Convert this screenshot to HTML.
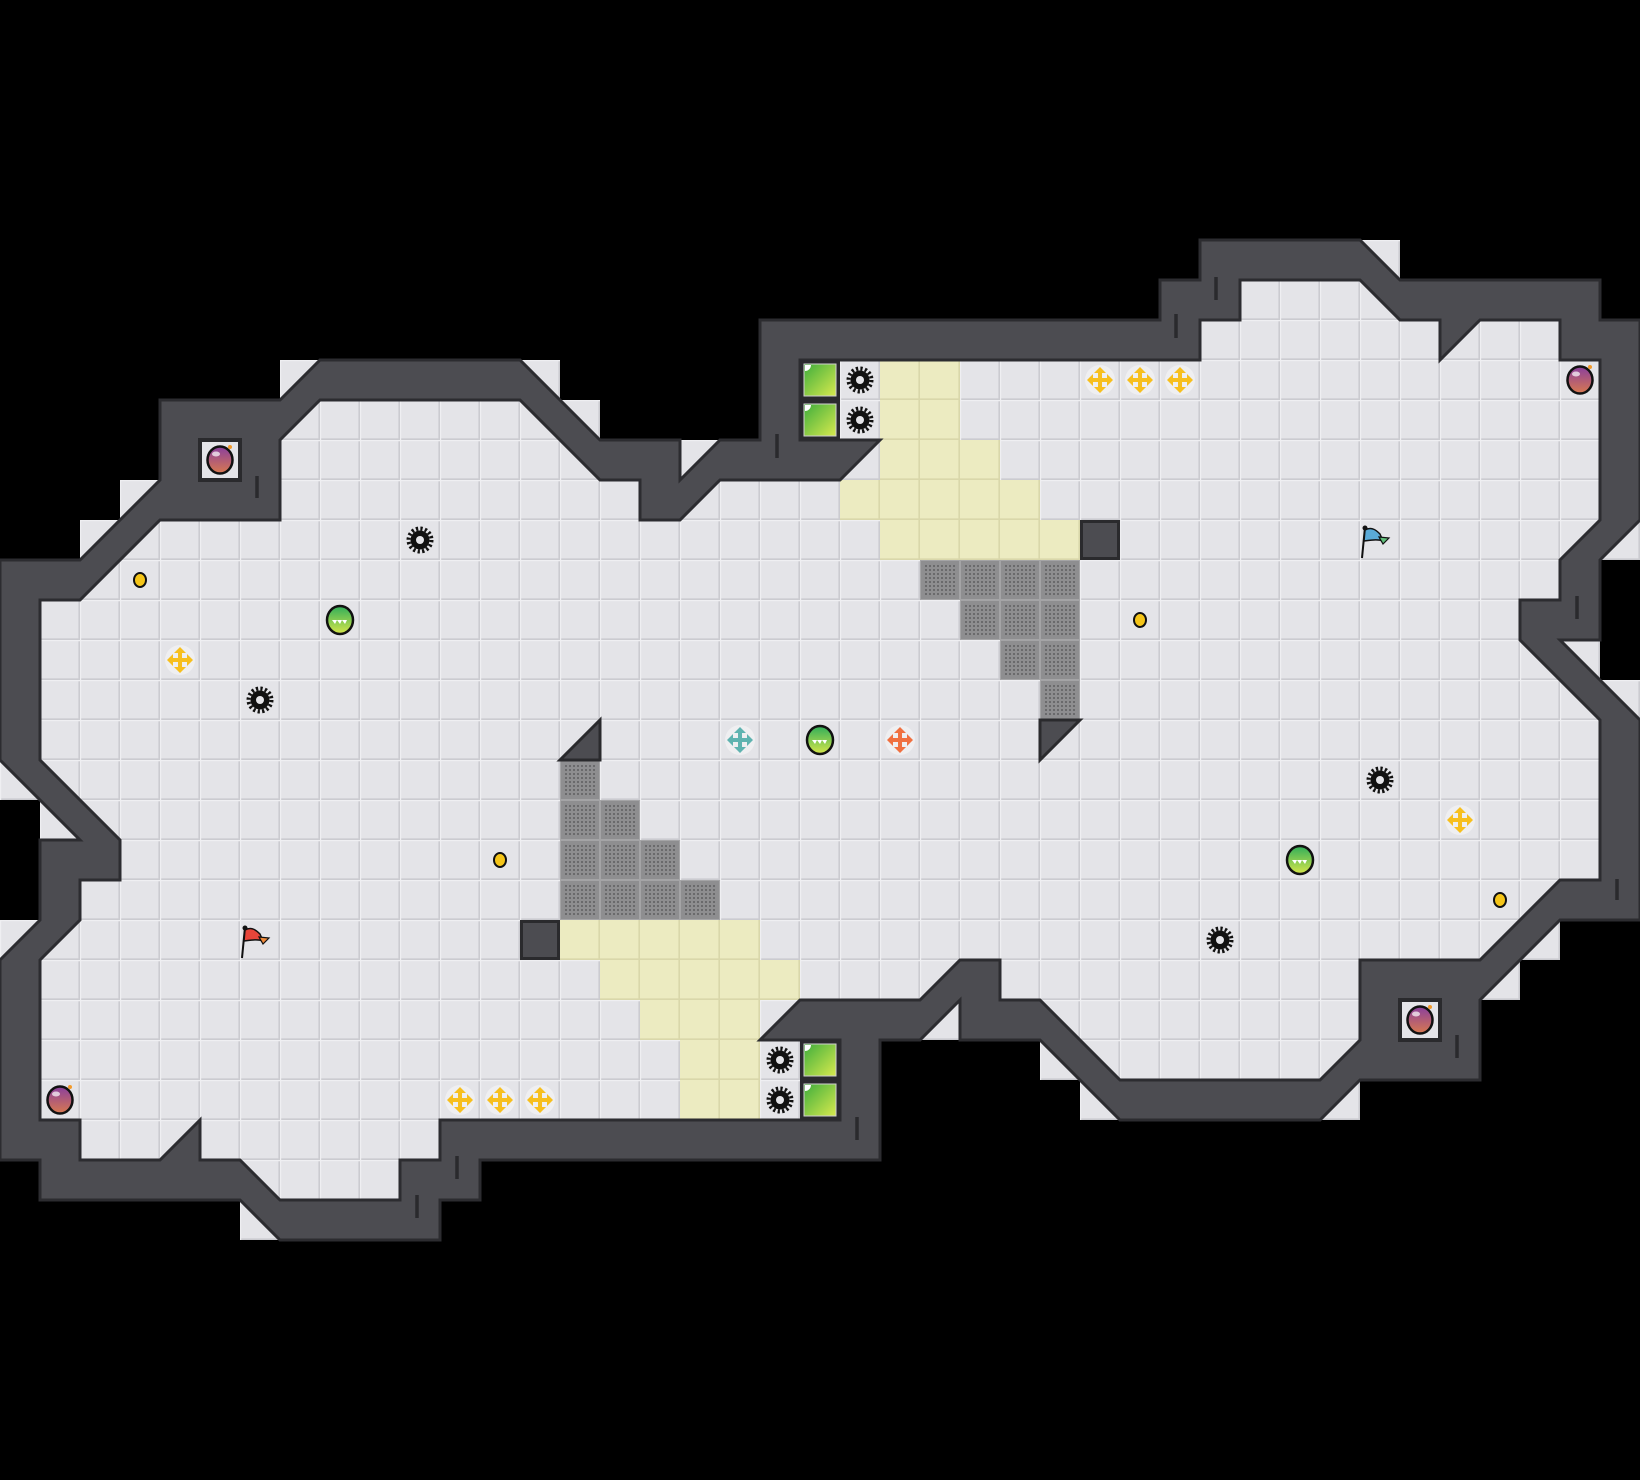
<!DOCTYPE html>
<html><head><meta charset="utf-8"><style>html,body{margin:0;padding:0;background:#000;}svg{display:block}</style></head>
<body>
<svg width="1640" height="1480" viewBox="0 0 1640 1480" xmlns="http://www.w3.org/2000/svg">
<defs>
<pattern id="fl" width="40" height="40" patternUnits="userSpaceOnUse">
<rect width="40" height="40" fill="#e4e4e8"/>
<path d="M0 39.2H40M39.2 0V40" stroke="#cbcbd0" stroke-width="1.6"/>
<path d="M0 0.6H40M0.6 0V40" stroke="#efeff2" stroke-width="1.2"/>
</pattern>
<pattern id="yl" width="40" height="40" patternUnits="userSpaceOnUse">
<rect width="40" height="40" fill="#ecebc1"/>
<path d="M0 39.2H40M39.2 0V40" stroke="#d9d7aa" stroke-width="1.6"/>
</pattern>
<pattern id="ms" width="40" height="40" patternUnits="userSpaceOnUse">
<rect width="40" height="40" fill="#8e8e90"/>
<rect x="0.5" y="0.5" width="39" height="39" fill="none" stroke="#a4a4a6" stroke-width="1"/>
<g fill="#6c6c6e">
<rect x="5" y="5" width="30" height="30" fill="url(#dots)"/>
</g>
</pattern>
<pattern id="dots" width="4" height="4" patternUnits="userSpaceOnUse">
<rect x="1" y="1" width="2" height="2" fill="#6a6a6c"/>
</pattern>
<g id="gear"><circle r="9.5" fill="#111"/><circle r="11.5" fill="none" stroke="#111" stroke-width="4" stroke-dasharray="2.26 2.26"/><circle r="4" fill="#e4e4e8"/></g>
<g id="cross"><circle r="15" fill="#fff" opacity=".4"/><path d="M-13,0 L-7,-6 L-7,-2 L-2,-2 L-2,-7 L-6,-7 L0,-13 L6,-7 L2,-7 L2,-2 L7,-2 L7,-6 L13,0 L7,6 L7,2 L2,2 L2,7 L6,7 L0,13 L-6,7 L-2,7 L-2,2 L-7,2 L-7,6Z"/></g>
<linearGradient id="gb" x1="0" y1="0" x2="0" y2="1"><stop offset="0" stop-color="#2fae5a"/><stop offset="1" stop-color="#d6e64a"/></linearGradient>
<linearGradient id="pb" x1="0" y1="0" x2="0" y2="1"><stop offset="0" stop-color="#8a3f9e"/><stop offset="1" stop-color="#d9794f"/></linearGradient>
<linearGradient id="gbox" x1="0" y1="0" x2="1" y2="1"><stop offset="0" stop-color="#3fae3c"/><stop offset="1" stop-color="#d8ea4e"/></linearGradient>
<g id="ball"><ellipse rx="13" ry="14" fill="url(#gb)" stroke="#111" stroke-width="2.5"/><path d="M-8,0 L-5,4 L-3,0 L0,4 L2,0 L5,4 L7,0Z" fill="#fff"/></g>
<g id="bomb"><ellipse rx="12.5" ry="13.5" fill="url(#pb)" stroke="#111" stroke-width="2.5"/><ellipse cx="-4" cy="-6" rx="4" ry="2.5" fill="#fff" opacity=".7"/><circle cx="10" cy="-13" r="2" fill="#f39a2a"/></g>
<g id="coin"><ellipse rx="6" ry="7" fill="#f5c518" stroke="#111" stroke-width="2"/></g>
<g id="gbx"><rect x="0" y="0" width="40" height="40" fill="#2b2b2e"/><rect x="4" y="4" width="32" height="32" fill="url(#gbox)" stroke="#d0d0d0" stroke-width="1"/><path d="M5,5 h6 a6 6 0 0 1 -6 6z" fill="#fff"/></g>
</defs>
<rect width="1640" height="1480" fill="#000"/>
<!-- outside light cells at diagonals -->
<g fill="url(#fl)">
<rect x="280" y="360" width="40" height="40"/>
<rect x="520" y="360" width="40" height="40"/>
<rect x="560" y="400" width="40" height="40"/>
<rect x="680" y="440" width="40" height="40"/>
<rect x="1360" y="240" width="40" height="40"/>
<rect x="1600" y="520" width="40" height="40"/>
<rect x="1560" y="640" width="40" height="40"/>
<rect x="1600" y="680" width="40" height="40"/>
<rect x="1520" y="920" width="40" height="40"/>
<rect x="1480" y="960" width="40" height="40"/>
<rect x="1320" y="1080" width="40" height="40"/>
<rect x="1040" y="1040" width="40" height="40"/>
<rect x="1080" y="1080" width="40" height="40"/>
<rect x="920" y="1000" width="40" height="40"/>
<rect x="240" y="1200" width="40" height="40"/>
<rect x="0" y="920" width="40" height="40"/>
<rect x="0" y="760" width="40" height="40"/>
<rect x="40" y="800" width="40" height="40"/>
<rect x="120" y="480" width="40" height="40"/>
<rect x="80" y="520" width="40" height="40"/>
</g>
<!-- floor -->
<g transform="scale(40)">
<polygon fill="url(#fl)" points="8,10 13,10 15,12 16,12 16,13 17,13 18,12 21,12 22,11 20,11 20,9 30,9 30,8 31,8 31,7 34,7 35,8 36,8 36,9 37,8 39,8 39,9 40,9 40,13 39,14 39,15 38,15 38,16 40,18 40,22 39,22 37,24 34,24 34,26 33,27 28,27 26,25 25,25 25,24 24,24 23,25 20,25 19,26 21,26 21,28 11,28 11,29 10,29 10,30 7,30 6,29 5,29 5,28 4,29 2,29 2,28 1,28 1,24 2,23 2,22 3,22 3,21 1,19 1,15 2,15 4,13 7,13 7,11" transform="scale(0.025)" style="display:none"/>
</g>
<polygon fill="url(#fl)" points="320,400 520,400 600,480 640,480 640,520 680,520 720,480 840,480 880,440 800,440 800,360 1200,360 1200,320 1240,320 1240,280 1360,280 1400,320 1440,320 1440,360 1480,320 1560,320 1560,360 1600,360 1600,520 1560,560 1560,600 1520,600 1520,640 1600,720 1600,880 1560,880 1480,960 1360,960 1360,1040 1320,1080 1120,1080 1040,1000 1000,1000 1000,960 960,960 920,1000 800,1000 760,1040 840,1040 840,1120 440,1120 440,1160 400,1160 400,1200 280,1200 240,1160 200,1160 200,1120 160,1160 80,1160 80,1120 40,1120 40,960 80,920 80,880 120,880 120,840 40,760 40,600 80,600 160,520 280,520 280,440"/>
<!-- yellow -->
<g fill="url(#yl)">
<rect x="880" y="360" width="80" height="80"/>
<rect x="880" y="440" width="120" height="40"/>
<rect x="840" y="480" width="200" height="40"/>
<rect x="880" y="520" width="200" height="40"/>
<rect x="560" y="920" width="200" height="40"/>
<rect x="600" y="960" width="200" height="40"/>
<rect x="640" y="1000" width="120" height="40"/>
<rect x="680" y="1040" width="80" height="80"/>
</g>
<!-- mesh -->
<g fill="url(#ms)">
<rect x="920" y="560" width="160" height="40"/>
<rect x="960" y="600" width="120" height="40"/>
<rect x="1000" y="640" width="80" height="40"/>
<rect x="1040" y="680" width="40" height="40"/>
<rect x="560" y="760" width="40" height="40"/>
<rect x="560" y="800" width="80" height="40"/>
<rect x="560" y="840" width="120" height="40"/>
<rect x="560" y="880" width="160" height="40"/>
</g>
<!-- dark blocks / triangles -->
<g fill="#4c4c51" stroke="#2a2a2d" stroke-width="3">
<rect x="1081.5" y="521.5" width="37" height="37"/>
<rect x="521.5" y="921.5" width="37" height="37"/>
<polygon points="1040,720 1080,720 1040,760"/>
<polygon points="600,720 600,760 560,760"/>
</g>
<!-- wall -->
<path fill="#4c4c51" stroke="#2c2c30" stroke-width="3" stroke-linejoin="miter" fill-rule="evenodd" d="M320,360 L520,360 600,440 680,440 680,480 720,440 760,440 760,320 1160,320 1160,280 1200,280 1200,240 1360,240 1400,280 1600,280 1600,320 1640,320 1640,520 1600,560 1600,640 1560,640 1640,720 1640,920 1560,920 1480,1000 1480,1080 1360,1080 1320,1120 1120,1120 1040,1040 960,1040 960,1000 920,1040 880,1040 880,1160 480,1160 480,1200 440,1200 440,1240 280,1240 240,1200 40,1200 40,1160 0,1160 0,960 40,920 40,840 80,840 0,760 0,560 80,560 160,480 160,400 280,400 Z M320,400 L520,400 600,480 640,480 640,520 680,520 720,480 840,480 880,440 800,440 800,360 1200,360 1200,320 1240,320 1240,280 1360,280 1400,320 1440,320 1440,360 1480,320 1560,320 1560,360 1600,360 1600,520 1560,560 1560,600 1520,600 1520,640 1600,720 1600,880 1560,880 1480,960 1360,960 1360,1040 1320,1080 1120,1080 1040,1000 1000,1000 1000,960 960,960 920,1000 800,1000 760,1040 840,1040 840,1120 440,1120 440,1160 400,1160 400,1200 280,1200 240,1160 200,1160 200,1120 160,1160 80,1160 80,1120 40,1120 40,960 80,920 80,880 120,880 120,840 40,760 40,600 80,600 160,520 280,520 280,440 Z"/>
<!-- notches -->
<g stroke="#2a2a2d" stroke-width="3.5">
<line x1="257" y1="476" x2="257" y2="498"/>
<line x1="777" y1="434" x2="777" y2="458"/>
<line x1="1176" y1="314" x2="1176" y2="338"/>
<line x1="1216" y1="277" x2="1216" y2="300"/>
<line x1="1577" y1="596" x2="1577" y2="619"/>
<line x1="1617" y1="879" x2="1617" y2="900"/>
<line x1="1457" y1="1035" x2="1457" y2="1058"/>
<line x1="857" y1="1117" x2="857" y2="1140"/>
<line x1="457" y1="1156" x2="457" y2="1179"/>
<line x1="417" y1="1195" x2="417" y2="1218"/>
</g>
<!-- bomb alcoves -->
<rect x="200" y="440" width="40" height="40" fill="url(#fl)" stroke="#2a2a2d" stroke-width="4"/>
<rect x="1400" y="1000" width="40" height="40" fill="url(#fl)" stroke="#2a2a2d" stroke-width="4"/>
<!-- green boxes -->
<use href="#gbx" x="800" y="360"/><use href="#gbx" x="800" y="400"/>
<use href="#gbx" x="800" y="1040"/><use href="#gbx" x="800" y="1080"/>
<!-- gears -->
<use href="#gear" x="860" y="380"/><use href="#gear" x="860" y="420"/>
<use href="#gear" x="780" y="1060"/><use href="#gear" x="780" y="1100"/>
<use href="#gear" x="420" y="540"/><use href="#gear" x="260" y="700"/>
<use href="#gear" x="1380" y="780"/><use href="#gear" x="1220" y="940"/>
<!-- crosses -->
<g fill="#f7bf1e">
<use href="#cross" x="180" y="660"/>
<use href="#cross" x="1100" y="380"/><use href="#cross" x="1140" y="380"/><use href="#cross" x="1180" y="380"/>
<use href="#cross" x="460" y="1100"/><use href="#cross" x="500" y="1100"/><use href="#cross" x="540" y="1100"/>
<use href="#cross" x="1460" y="820"/>
</g>
<use href="#cross" x="740" y="740" fill="#5fb3b0"/>
<use href="#cross" x="900" y="740" fill="#f07040"/>
<!-- balls -->
<use href="#ball" x="340" y="620"/><use href="#ball" x="820" y="740"/><use href="#ball" x="1300" y="860"/>
<!-- coins -->
<use href="#coin" x="140" y="580"/><use href="#coin" x="500" y="860"/><use href="#coin" x="1140" y="620"/><use href="#coin" x="1500" y="900"/>
<!-- bombs -->
<use href="#bomb" x="220" y="460"/><use href="#bomb" x="1580" y="380"/><use href="#bomb" x="60" y="1100"/><use href="#bomb" x="1420" y="1020"/>
<!-- flags -->
<g transform="translate(242,925)">
<line x1="3" y1="2" x2="0" y2="33" stroke="#111" stroke-width="2"/>
<path d="M3,5 C10,1 15,6 18,9 L21,16 C16,14 10,15 2,16Z" fill="#e8453a" stroke="#111" stroke-width="1.5"/>
<path d="M17,12 L27,13 L21,19 Z" fill="#f08a3a" stroke="#111" stroke-width="1.2"/>
<circle cx="3" cy="3" r="2.5" fill="#111"/>
</g>
<g transform="translate(1362,525)">
<line x1="3" y1="2" x2="0" y2="33" stroke="#111" stroke-width="2"/>
<path d="M3,5 C10,1 15,6 18,9 L21,16 C16,14 10,15 2,16Z" fill="#5aaad8" stroke="#111" stroke-width="1.5"/>
<path d="M17,12 L27,13 L21,19 Z" fill="#5fbf7a" stroke="#111" stroke-width="1.2"/>
<circle cx="3" cy="3" r="2.5" fill="#111"/>
</g>
</svg>
</body></html>
